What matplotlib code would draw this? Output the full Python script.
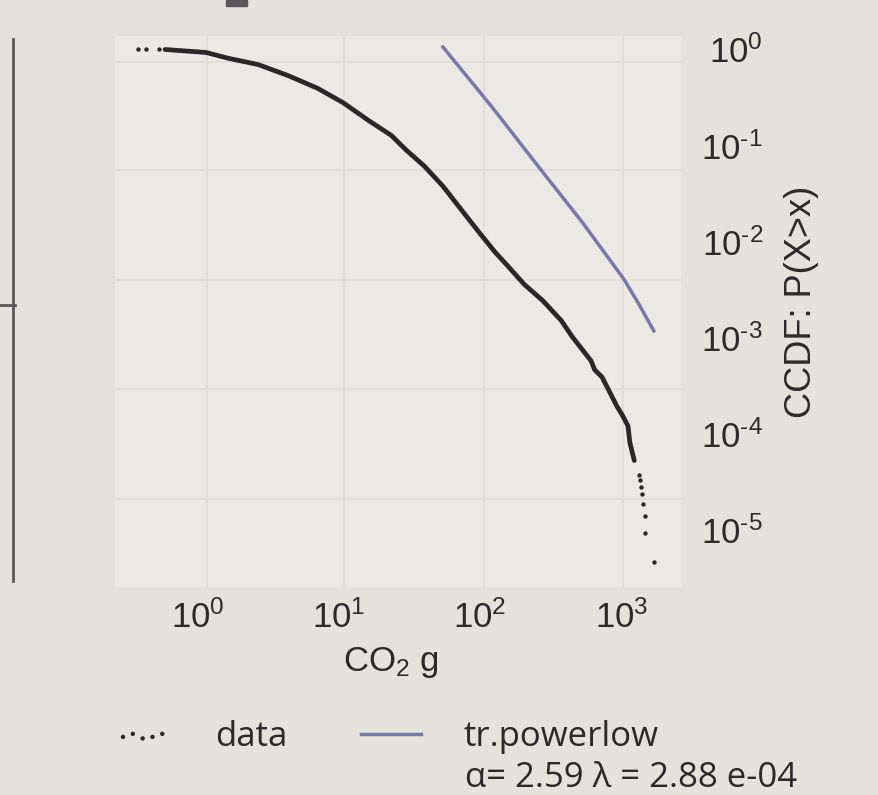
import matplotlib
matplotlib.use("Agg")
import matplotlib.pyplot as plt
from matplotlib.lines import Line2D
from matplotlib.patches import Rectangle

# ── data ───────────────────────────────────────────────────────────────────
# empirical CCDF, dense part drawn as a line
body_x = [0.588, 1.15, 1.652, 2.677, 4.336, 7.025, 10.72, 16.35, 23.5, 29.9,
          40.4, 54.6, 73.8, 99.8, 127, 161.8, 205.6, 277.9, 375.8, 450.4,
          609.6, 647.7, 729.5, 928.6, 1017, 1114, 1148, 1235]
body_y = [1.0, 0.931, 0.81, 0.698, 0.538, 0.397, 0.28, 0.1815, 0.128, 0.0904,
          0.0611, 0.0379, 0.0215, 0.01223, 7.9e-3, 5.35e-3, 3.61e-3, 2.45e-3,
          1.52e-3, 1.026e-3, 5.82e-4, 4.68e-4, 3.94e-4, 1.965e-4, 1.58e-4,
          1.22e-4, 8.24e-5, 5.33e-5]
# isolated observations (head and tail)
dots_x = [0.38, 0.43, 0.535, 1340, 1356, 1378, 1393, 1423, 1463, 1471, 1697]
dots_y = [1.0, 1.0, 1.0, 3.81e-5, 3.33e-5, 2.86e-5, 2.38e-5, 1.90e-5,
          1.43e-5, 9.5e-6, 4.76e-6]
# truncated power-law fit
fit_x = [54.6, 120.2, 270, 531.7, 1047, 1334, 1697]
fit_y = [1.06, 0.257, 0.056, 0.01585, 4.06e-3, 2.24e-3, 1.19e-3]
fit_label = "tr.powerlow"
fit_params = "α= 2.59 λ = 2.88 e-04"

x_ticks = [1, 10, 100, 1000]
x_exps = ["0", "1", "2", "3"]
y_ticks = [1, 1e-1, 1e-2, 1e-3, 1e-4, 1e-5]
y_exps = ["0", "-1", "-2", "-3", "-4", "-5"]


def pow_label(e):
    # short hyphen in the exponent, like the source
    e = e.replace("-", r"\text{-}")
    return r"$\mathdefault{10^{%s}}$" % e


# ── style ──────────────────────────────────────────────────────────────────
W, H = 879, 795
plt.rcParams.update({
    "font.family": "Liberation Sans",
    "mathtext.fontset": "custom",
    "mathtext.rm": "Liberation Sans",
    "mathtext.it": "Liberation Sans:italic",
    "mathtext.bf": "Liberation Sans:bold",
    "font.size": 25,
    "text.color": "#2a2a2a",
})
FIG_BG = "#e3e2dc"
AX_BG = "#eae9e3"
GRID = "#dedcd6"
INK = "#282828"
PURPLE = "#7878aa"
LEG_FONT = {"family": ["Open Sans", "DejaVu Sans"], "size": 25}

fig = plt.figure(figsize=(W / 100, H / 100), dpi=100, facecolor=FIG_BG)
rect = [114.5 / W, 1 - 586.7 / H, 566.5 / W, 551.2 / H]

# background panel carrying the grid (offset from the data decades, as in the source)
bg = fig.add_axes(rect, zorder=0)
bg.set_facecolor(AX_BG)
bg.set_xlim(0, 1)
bg.set_ylim(0, 1)
bg.set_xticks([0.1628, 0.405, 0.653, 0.898])
bg.set_yticks([0.1591, 0.3587, 0.5564, 0.756, 0.9526])
bg.grid(True, color=GRID, linewidth=1.2)
bg.tick_params(length=0, labelbottom=False, labelleft=False)
for s in bg.spines.values():
    s.set_visible(False)

ax = fig.add_axes(rect, zorder=1)
ax.set_facecolor("none")
ax.set_xscale("log")
ax.set_yscale("log")
ax.plot(body_x, body_y, color=INK, linewidth=3.4, solid_capstyle="round",
        solid_joinstyle="round")
sc = ax.scatter(dots_x, dots_y, s=10, color=INK, linewidths=0, label="data")
fit_line, = ax.plot(fit_x, fit_y, color=PURPLE, linewidth=2.5, label=fit_label)

ax.set_xlim(0.258, 2644)
ax.set_ylim(2.606e-6, 1.398)
ax.set_xticks(x_ticks)
ax.set_xticklabels([pow_label(e) for e in x_exps])
ax.set_yticks(y_ticks)
ax.set_yticklabels([pow_label(e) for e in y_exps])
ax.minorticks_off()
ax.yaxis.tick_right()
ax.tick_params(axis="x", length=0, pad=10, labelsize=25, labelcolor="#2a2a2a")
ax.tick_params(axis="y", length=0, pad=59, labelsize=25, labelcolor="#2a2a2a")
for lbl in ax.get_yticklabels():
    lbl.set_horizontalalignment("right")
for s in ax.spines.values():
    s.set_visible(False)

fig.text(391 / W, 1 - 663 / H, "CO$_2$ g", ha="center", va="center", fontsize=25)
fig.text(802 / W, 1 - 302 / H, "CCDF: P(X>x)", rotation=90, ha="center",
         va="center", fontsize=26)

fig.legend(handles=[sc, fit_line], labels=["data", fit_label], loc="upper left",
           bbox_to_anchor=(112.6 / W, 1 - 720 / H), ncol=2, frameon=False,
           prop=LEG_FONT, handlelength=1.73, handletextpad=1.22,
           columnspacing=2.13, scatterpoints=5, borderpad=0, borderaxespad=0)
fig.text(465.5 / W, 1 - 787 / H, fit_params, va="baseline", fontsize=25,
         family=["Open Sans", "DejaVu Sans"])

# remnants of the neighbouring panel
fig.add_artist(Line2D([13 / W, 13 / W], [1 - 39 / H, 1 - 581 / H],
                      transform=fig.transFigure, color="#58585a", linewidth=2))
fig.add_artist(Line2D([0, 15 / W], [1 - 304.7 / H, 1 - 304.7 / H],
                      transform=fig.transFigure, color="#58585a", linewidth=2))
fig.add_artist(Rectangle((225.7 / W, 1 - 6 / H), 21.6 / W, 6 / H,
                         transform=fig.transFigure, color="#58585a"))

fig.savefig("out.png", dpi=100, facecolor=FIG_BG)
